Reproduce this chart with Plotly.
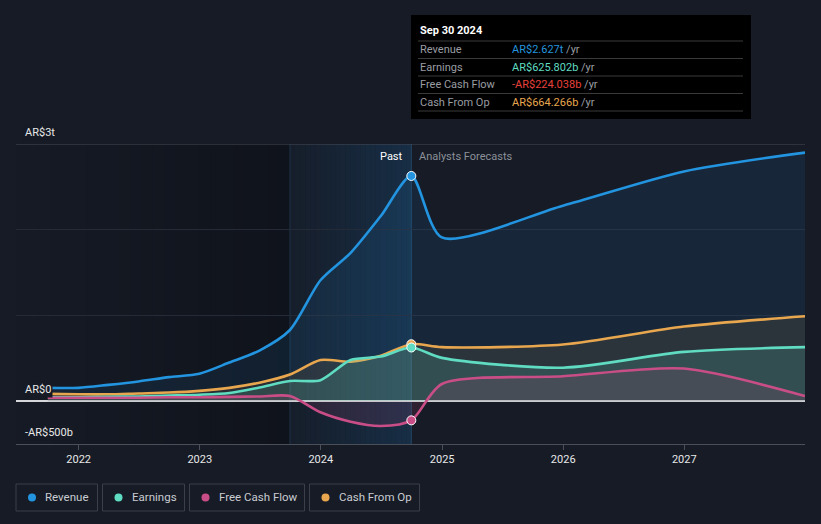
import plotly.graph_objects as go
import pandas as pd

# ---------------- data (values in AR$ trillions) ----------------
past_dates = ['2021-09-30', '2021-12-31', '2022-03-31', '2022-06-30', '2022-09-30',
              '2022-12-31', '2023-03-31', '2023-06-30', '2023-09-30', '2023-12-31',
              '2024-03-31', '2024-06-30', '2024-09-30']
forecast_dates = ['2024-12-31', '2025-12-31', '2026-12-31', '2027-12-31']

revenue_past = [0.155, 0.155, 0.19, 0.23, 0.28, 0.32, 0.45, 0.59, 0.83, 1.41, 1.73, 2.16, 2.627]
earnings_past = [0.045, 0.045, 0.05, 0.055, 0.065, 0.075, 0.095, 0.16, 0.235, 0.245, 0.48, 0.52, 0.625802]
fcf_past = [0.04, 0.04, 0.04, 0.04, 0.045, 0.045, 0.05, 0.055, 0.06, -0.13, -0.24, -0.29, -0.224038]
cfo_past = [0.085, 0.08, 0.08, 0.09, 0.10, 0.12, 0.155, 0.215, 0.31, 0.48, 0.46, 0.53, 0.664266]

revenue_fc = [1.91, 2.28, 2.68, 2.90]
earnings_fc = [0.505, 0.39, 0.575, 0.63]
fcf_fc = [0.20, 0.29, 0.38, 0.06]
cfo_fc = [0.63, 0.66, 0.87, 0.99]

series_names = ['Revenue', 'Earnings', 'Free Cash Flow', 'Cash From Op']
series_colors = ['#2394df', '#5fdcc2', '#c94e87', '#e8a74f']
tooltip_colors = ['#2394df', '#5fdcc2', '#e8403a', '#e8a74f']
fill_colors = ['rgba(35,148,223,0.10)', 'rgba(95,220,194,0.16)',
               'rgba(201,78,135,0.13)', 'rgba(232,167,79,0.10)']

y_tick_vals = [3, 0, -0.5]
y_tick_text = ['AR$3t', 'AR$0', '-AR$500b']

x_range = ['2021-06-26', '2027-12-31']
band_start = '2023-09-30'
tooltip_title = 'Sep 30 2024'

BG = '#161b26'
FONT = 'Roboto'

# ---------------- figure geometry helpers ----------------
W, H = 821, 524
ML, MR, MT, MB = 16, 16, 144, 80
PW, PH = W - ML - MR, H - MT - MB


def xp(px):
    return (px - ML) / PW


def yp(py):
    return (H - MB - py) / PH


def fmt(v):
    s = '-' if v < 0 else ''
    a = abs(v)
    if a >= 1:
        return f'{s}AR${a:.3f}t'
    return f'{s}AR${a * 1000:.3f}b'


fig = go.Figure()

all_dates = past_dates + forecast_dates
data = [
    revenue_past + revenue_fc,
    earnings_past + earnings_fc,
    fcf_past + fcf_fc,
    cfo_past + cfo_fc,
]
draw_order = [0, 3, 1, 2]
for i in draw_order:
    fig.add_trace(go.Scatter(
        x=all_dates, y=data[i], mode='lines', name=series_names[i],
        line=dict(color=series_colors[i], width=2.6, shape='spline', smoothing=0.75),
        fill='tozeroy', fillcolor=fill_colors[i], hoverinfo='skip', showlegend=False))

for i in draw_order:
    fig.add_trace(go.Scatter(
        x=[past_dates[-1]], y=[data[i][len(past_dates) - 1]], mode='markers',
        marker=dict(color=series_colors[i], size=9, line=dict(color='white', width=1)),
        hoverinfo='skip', showlegend=False))

shapes = []
# darker gradient on the left (historic) area
t0 = pd.Timestamp(x_range[0])
t1 = pd.Timestamp(band_start)
t2 = pd.Timestamp(past_dates[-1])
n = 24
for k in range(n):
    a = t0 + (t1 - t0) * k / n
    b = t0 + (t1 - t0) * (k + 1) / n
    shapes.append(dict(type='rect', xref='x', yref='paper', x0=a, x1=b, y0=0, y1=1,
                       fillcolor=f'rgba(0,0,0,{0.28 * (k + 0.5) / n:.3f})',
                       line=dict(width=0), layer='below'))
# blue highlight band for the last year
for k in range(n):
    a = t1 + (t2 - t1) * k / n
    b = t1 + (t2 - t1) * (k + 1) / n
    shapes.append(dict(type='rect', xref='x', yref='paper', x0=a, x1=b, y0=0, y1=1,
                       fillcolor=f'rgba(30,105,165,{0.04 + 0.21 * (k + 0.5) / n:.3f})',
                       line=dict(width=0), layer='below'))
shapes.append(dict(type='line', xref='x', yref='paper', x0=band_start, x1=band_start, y0=0, y1=1,
                   line=dict(color='rgba(40,90,130,0.4)', width=1), layer='below'))
shapes.append(dict(type='line', xref='x', yref='paper', x0=past_dates[-1], x1=past_dates[-1],
                   y0=0, y1=1, line=dict(color='rgba(50,110,160,0.45)', width=1), layer='below'))
# top gridline (lighter)
shapes.append(dict(type='line', xref='paper', yref='y', x0=0, x1=1, y0=3, y1=3,
                   line=dict(color='#464b55', width=1), layer='below'))

# tooltip box
shapes.append(dict(type='rect', xref='paper', yref='paper', x0=xp(411), x1=xp(751),
                   y0=yp(119), y1=yp(15), fillcolor='#000000', line=dict(width=0)))
for py in [41, 58.5, 76, 93.5, 111]:
    shapes.append(dict(type='line', xref='paper', yref='paper', x0=xp(418), x1=xp(743),
                       y0=yp(py), y1=yp(py), line=dict(color='#3a3a3a', width=1)))

annotations = []
annotations.append(dict(xref='paper', yref='paper', x=xp(418), y=yp(31), text=f'<b>{tooltip_title}</b>',
                        showarrow=False, xanchor='left', yanchor='middle',
                        font=dict(family=FONT, size=11, color='#ffffff')))
last_vals = [revenue_past[-1], earnings_past[-1], fcf_past[-1], cfo_past[-1]]
for i, py in enumerate([49.5, 67, 84.5, 102]):
    annotations.append(dict(xref='paper', yref='paper', x=xp(418), y=yp(py), text=series_names[i],
                            showarrow=False, xanchor='left', yanchor='middle',
                            font=dict(family=FONT, size=11, color='#9a9da3')))
    annotations.append(dict(xref='paper', yref='paper', x=xp(510), y=yp(py),
                            text=f'<span style="color:{tooltip_colors[i]}">{fmt(last_vals[i])}</span> /yr',
                            showarrow=False, xanchor='left', yanchor='middle',
                            font=dict(family=FONT, size=11, color='#9a9da3')))

# Past / Analysts Forecasts
annotations.append(dict(xref='x', yref='paper', x=past_dates[-1], y=yp(156), text='Past',
                        showarrow=False, xanchor='right', yanchor='middle', xshift=-6,
                        font=dict(family=FONT, size=11, color='#ffffff')))
annotations.append(dict(xref='x', yref='paper', x=past_dates[-1], y=yp(156), text='Analysts Forecasts',
                        showarrow=False, xanchor='left', yanchor='middle', xshift=6,
                        font=dict(family=FONT, size=11, color='#8c9098')))

# y axis labels
for v, t in zip(y_tick_vals, y_tick_text):
    annotations.append(dict(xref='paper', yref='y', x=xp(23), y=v, text=t, showarrow=False,
                            xanchor='left', yanchor='middle', yshift=12, bgcolor='#151a24',
                            borderpad=1,
                            font=dict(family=FONT, size=11, color='#e8e8e8')))

# legend (boxed items)
legend_boxes = [(16, 97.5), (102.5, 184.5), (189.5, 304.5), (309.5, 419.5)]
for i, (a, b) in enumerate(legend_boxes):
    shapes.append(dict(type='rect', xref='paper', yref='paper', x0=xp(a), x1=xp(b),
                       y0=yp(511), y1=yp(484), line=dict(color='#3a3f49', width=1),
                       fillcolor='rgba(0,0,0,0)'))
    shapes.append(dict(type='circle', xref='paper', yref='paper', xsizemode='pixel', ysizemode='pixel',
                       xanchor=xp(a + 16), yanchor=yp(497.5), x0=-4, x1=4, y0=-4, y1=4,
                       fillcolor=series_colors[i], line=dict(width=0)))
    annotations.append(dict(xref='paper', yref='paper', x=xp(a + 27), y=yp(497.5), text=series_names[i],
                            showarrow=False, xanchor='left', yanchor='middle',
                            font=dict(family=FONT, size=11.5, color='#c9ccd1')))

fig.update_layout(
    width=W, height=H,
    margin=dict(l=ML, r=MR, t=MT, b=MB, pad=0),
    paper_bgcolor=BG, plot_bgcolor=BG,
    showlegend=False,
    shapes=shapes, annotations=annotations,
    font=dict(family=FONT, color='#e8e8e8'),
    xaxis=dict(type='date', range=x_range, showgrid=False, zeroline=False,
               showline=True, linecolor='#4a4f58', linewidth=1,
               ticks='outside', ticklen=5, tickcolor='#4a4f58',
               tick0='2022-01-01', dtick='M12', tickformat='%Y',
               tickfont=dict(family=FONT, size=11, color='#e8e8e8'), fixedrange=True),
    yaxis=dict(range=[-0.5, 3.0], tickvals=[0, 1, 2, 3], showticklabels=False,
               gridcolor='#252b36', gridwidth=1, zeroline=True, zerolinecolor='#d5d7db',
               zerolinewidth=1.5, fixedrange=True),
)

fig.write_html(
    'out.html',
    config={'displayModeBar': False},
    post_script="document.body.style.margin='0';document.body.style.padding='0';"
                "document.body.style.overflow='hidden';"
                "document.body.style.background='" + BG + "';",
)
